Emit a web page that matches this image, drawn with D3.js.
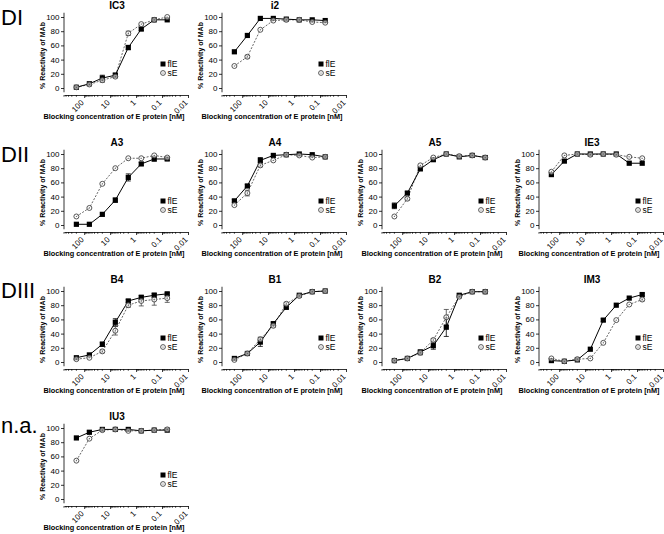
<!DOCTYPE html>
<html>
<head>
<meta charset="utf-8">
<script src="https://cdn.jsdelivr.net/npm/d3@7"></script>
<style>
  body { margin: 0; background: #fff; }
  svg { display: block; }
  text { font-family: Arial, "Liberation Sans", sans-serif; }
</style>
</head>
<body>
<svg id="chart" width="664" height="534"></svg>
<script>
// blocking concentrations of E protein [nM], high to low
const conc = [200, 63.2, 20, 6.32, 2, 0.632, 0.2, 0.0632];
const xTicks = [100, 10, 1, 0.1, 0.01];
const yTicks = [0, 20, 40, 60, 80, 100];
const seriesNames = ["flE", "sE"];
const rowLabels = ["DI", "DII", "DIII", "n.a."];

// % reactivity of MAb (mean) and error (SD) per panel
const ic3_flE = [1, 6, 14, 18, 57, 83, 96, 96];
const ic3_sE = [1, 5, 11, 16, 77, 90, 96, 100];
const ic3_flE_err = [0, 1, 4, 3, 3, 2, 1, 1];
const ic3_sE_err = [0, 1, 3, 2, 3, 1, 1, 1];

const i2_flE = [51, 74, 98, 98, 97, 96, 96, 95];
const i2_sE = [31, 44, 82, 95, 96, 96, 93, 92];
const i2_flE_err = [1, 1, 1, 1, 1, 1, 1, 1];
const i2_sE_err = [1, 2, 1, 1, 1, 1, 1, 1];

const a3_flE = [1, 1, 15, 35, 67, 86, 93, 93];
const a3_sE = [12, 24, 58, 80, 94, 94, 98, 95];
const a3_flE_err = [0, 0, 1, 3, 5, 2, 3, 2];
const a3_sE_err = [1, 1, 1, 1, 1, 1, 1, 1];

const a4_flE = [34, 55, 91, 98, 99, 100, 99, 96];
const a4_sE = [28, 45, 84, 91, 99, 98, 95, 96];
const a4_flE_err = [2, 2, 4, 1, 1, 1, 1, 1];
const a4_sE_err = [1, 4, 2, 1, 1, 1, 1, 1];

const a5_flE = [27, 45, 79, 92, 100, 96, 98, 95];
const a5_sE = [12, 37, 84, 95, 100, 97, 98, 95];
const a5_flE_err = [4, 2, 2, 2, 1, 1, 1, 2];
const a5_sE_err = [1, 2, 1, 1, 1, 1, 1, 1];

const ie3_flE = [71, 90, 100, 100, 100, 100, 87, 87];
const ie3_sE = [75, 98, 100, 99, 100, 99, 96, 94];
const ie3_flE_err = [2, 1, 1, 1, 1, 1, 1, 1];
const ie3_sE_err = [1, 1, 1, 1, 1, 1, 1, 1];

const b4_flE = [6, 10, 25, 56, 86, 91, 94, 96];
const b4_sE = [4, 6, 15, 44, 80, 86, 88, 90];
const b4_flE_err = [1, 1, 3, 5, 2, 3, 3, 2];
const b4_sE_err = [1, 1, 2, 6, 3, 7, 8, 6];

const b1_flE = [5, 12, 28, 54, 77, 94, 99, 100];
const b1_sE = [3, 12, 32, 51, 82, 93, 99, 100];
const b1_flE_err = [1, 1, 6, 2, 2, 1, 1, 1];
const b1_sE_err = [1, 1, 3, 2, 2, 1, 1, 1];

const b2_flE = [2, 5, 14, 23, 49, 94, 99, 99];
const b2_sE = [2, 5, 13, 31, 63, 92, 99, 99];
const b2_flE_err = [1, 1, 3, 5, 13, 2, 1, 1];
const b2_sE_err = [1, 1, 3, 2, 11, 2, 1, 1];

const im3_flE = [2, 1, 3, 18, 59, 80, 90, 95];
const im3_sE = [5, 1, 4, 5, 27, 59, 81, 88];
const im3_flE_err = [1, 1, 1, 1, 2, 1, 1, 2];
const im3_sE_err = [1, 1, 1, 1, 1, 1, 1, 2];

const iu3_flE = [86, 94, 98, 98, 98, 96, 97, 97];
const iu3_sE = [54, 85, 97, 98, 96, 96, 97, 98];
const iu3_flE_err = [1, 2, 1, 1, 1, 1, 1, 1];
const iu3_sE_err = [1, 1, 1, 1, 1, 1, 1, 1];

const panels = [
  { name: "IC3", flE: ic3_flE, sE: ic3_sE, flEErr: ic3_flE_err, sEErr: ic3_sE_err, row: 0, col: 0 },
  { name: "i2", flE: i2_flE, sE: i2_sE, flEErr: i2_flE_err, sEErr: i2_sE_err, row: 0, col: 1 },
  { name: "A3", flE: a3_flE, sE: a3_sE, flEErr: a3_flE_err, sEErr: a3_sE_err, row: 1, col: 0 },
  { name: "A4", flE: a4_flE, sE: a4_sE, flEErr: a4_flE_err, sEErr: a4_sE_err, row: 1, col: 1 },
  { name: "A5", flE: a5_flE, sE: a5_sE, flEErr: a5_flE_err, sEErr: a5_sE_err, row: 1, col: 2 },
  { name: "IE3", flE: ie3_flE, sE: ie3_sE, flEErr: ie3_flE_err, sEErr: ie3_sE_err, row: 1, col: 3 },
  { name: "B4", flE: b4_flE, sE: b4_sE, flEErr: b4_flE_err, sEErr: b4_sE_err, row: 2, col: 0 },
  { name: "B1", flE: b1_flE, sE: b1_sE, flEErr: b1_flE_err, sEErr: b1_sE_err, row: 2, col: 1 },
  { name: "B2", flE: b2_flE, sE: b2_sE, flEErr: b2_flE_err, sEErr: b2_sE_err, row: 2, col: 2 },
  { name: "IM3", flE: im3_flE, sE: im3_sE, flEErr: im3_flE_err, sEErr: im3_sE_err, row: 2, col: 3 },
  { name: "IU3", flE: iu3_flE, sE: iu3_sE, flEErr: iu3_flE_err, sEErr: iu3_sE_err, row: 3, col: 0 }
];

// layout: x of y-axis per column, y of the 100% line per row
const colX = [64, 222, 382, 539];
const rowY = [17, 154, 291, 428];
const plotW = 124, plotH = 71, xAxisOff = 78;

const svg = d3.select("#chart");

// row group labels
const rowBase = [25, 162, 298, 433];
svg.selectAll("text.rowlab")
  .data(rowLabels)
  .enter().append("text")
  .attr("class", "rowlab")
  .attr("x", 1)
  .attr("y", (d, i) => rowBase[i])
  .attr("font-size", 22)
  .text(d => d);

const x = d3.scaleLog().domain([600, 0.01]).range([0, plotW]);
const y = d3.scaleLinear().domain([0, 100]).range([plotH, 0]);

// minor ticks for the log axis
let minor = [];
[0.01, 0.1, 1, 10, 100].forEach(dec => {
  for (let m = 2; m <= 9; m++) {
    const v = dec * m;
    if (v <= 600 && v >= 0.01) minor.push(v);
  }
});

const line = d3.line().x((d, i) => x(conc[i])).y(d => y(d));

panels.forEach(p => {
  const g = svg.append("g")
    .attr("transform", `translate(${colX[p.col]},${rowY[p.row]})`);

  // y axis
  const ya = g.append("g")
    .call(d3.axisLeft(y).tickValues(yTicks).tickSize(3).tickPadding(1.5).tickSizeOuter(0));
  ya.select(".domain").attr("d", `M0,${y(106)}V${y(-6)}`);
  ya.selectAll("text").attr("font-size", 8).attr("font-family", null);
  ya.selectAll("line, .domain").attr("stroke", "#000").attr("stroke-width", 0.8);

  // x axis
  const xa = g.append("g")
    .attr("transform", `translate(0,${xAxisOff})`)
    .call(d3.axisBottom(x).tickValues(xTicks).tickSize(3).tickSizeOuter(0).tickFormat(d3.format("")));
  xa.selectAll("text")
    .attr("font-size", 8)
    .attr("font-family", null)
    .attr("x", 0).attr("y", 0).attr("dy", "0.3em")
    .attr("text-anchor", "end")
    .attr("transform", "translate(-2,6.5) rotate(-45)");
  xa.selectAll("line, .domain").attr("stroke", "#000").attr("stroke-width", 0.8);
  xa.selectAll("line.minor")
    .data(minor)
    .enter().append("line")
    .attr("class", "minor")
    .attr("x1", d => x(d)).attr("x2", d => x(d))
    .attr("y1", 0).attr("y2", 1.8)
    .attr("stroke", "#000").attr("stroke-width", 0.7);

  // title
  g.append("text")
    .attr("x", 53).attr("y", -8.5)
    .attr("text-anchor", "middle")
    .attr("font-size", 10).attr("font-weight", "bold")
    .text(p.name);

  // axis labels
  g.append("text")
    .attr("transform", `translate(-19,${plotH / 2 + 3}) rotate(-90)`)
    .attr("text-anchor", "middle")
    .attr("font-size", 7).attr("font-weight", "bold")
    .text("% Reactivity of MAb");
  g.append("text")
    .attr("x", 50).attr("y", 102)
    .attr("text-anchor", "middle")
    .attr("font-size", 7.3).attr("font-weight", "bold")
    .text("Blocking concentration of E protein [nM]");

  // error bars
  const drawErr = (vals, errs, col) => {
    const eg = g.append("g").attr("stroke", col).attr("stroke-width", 0.8);
    vals.forEach((v, i) => {
      const e = errs[i];
      if (e < 2) return;
      const cx = x(conc[i]);
      eg.append("line").attr("x1", cx).attr("x2", cx).attr("y1", y(v - e)).attr("y2", y(v + e));
      [v - e, v + e].forEach(t => eg.append("line")
        .attr("x1", cx - 2.5).attr("x2", cx + 2.5).attr("y1", y(t)).attr("y2", y(t)));
    });
  };

  // sE: dashed grey line, open circles
  drawErr(p.sE, p.sEErr, "#444");
  g.append("path").datum(p.sE)
    .attr("d", line).attr("fill", "none")
    .attr("stroke", "#555").attr("stroke-width", 0.9)
    .attr("stroke-dasharray", "2,1.5");

  // flE: solid black line, filled squares
  drawErr(p.flE, p.flEErr, "#000");
  g.append("path").datum(p.flE)
    .attr("d", line).attr("fill", "none")
    .attr("stroke", "#000").attr("stroke-width", 1);
  g.selectAll("rect.pt").data(p.flE)
    .enter().append("rect")
    .attr("class", "pt")
    .attr("x", (d, i) => x(conc[i]) - 2.6).attr("y", d => y(d) - 2.6)
    .attr("width", 5.2).attr("height", 5.2)
    .attr("fill", "#000");

  g.selectAll("circle.pt").data(p.sE)
    .enter().append("circle")
    .attr("class", "pt")
    .attr("cx", (d, i) => x(conc[i])).attr("cy", d => y(d))
    .attr("r", 2.5)
    .attr("fill", "#fff").attr("fill-opacity", 0.6)
    .attr("stroke", "#444").attr("stroke-width", 0.9);
  g.selectAll("circle.dot").data(p.sE)
    .enter().append("circle")
    .attr("class", "dot")
    .attr("cx", (d, i) => x(conc[i])).attr("cy", d => y(d))
    .attr("r", 0.6)
    .attr("fill", "#555");

  // legend
  const lg = g.append("g").attr("transform", "translate(99,47)");
  lg.append("rect").attr("x", -2.5).attr("y", -2.5).attr("width", 5).attr("height", 5).attr("fill", "#000");
  lg.append("circle").attr("cx", 0).attr("cy", 9).attr("r", 2.4)
    .attr("fill", "#fff").attr("stroke", "#444").attr("stroke-width", 0.9);
  lg.append("circle").attr("cx", 0).attr("cy", 9).attr("r", 0.6).attr("fill", "#555");
  lg.selectAll("text").data(seriesNames)
    .enter().append("text")
    .attr("x", 4.5).attr("y", (d, i) => i * 9 + 3)
    .attr("font-size", 8.5)
    .text(d => d);
});
</script>
</body>
</html>
